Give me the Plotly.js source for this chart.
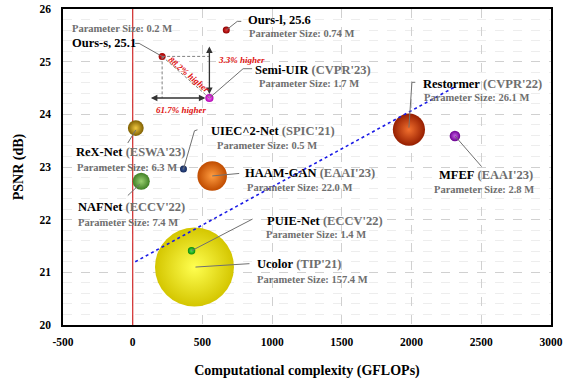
<!DOCTYPE html>
<html>
<head>
<meta charset="utf-8">
<script src="https://cdn.plot.ly/plotly-3.0.1.min.js"></script>
<style>html,body{margin:0;padding:0;background:#fff;}#chart{width:568px;height:381px;}</style>
</head>
<body>
<div id="chart"></div>
<script>
// ---- data ----
const models  = ['Ucolor','Restormer','HAAM-GAN','NAFNet','ReX-Net','MFEF','Semi-UIR','PUIE-Net','Ours-l','UIEC^2-Net','Ours-s'];
const venues  = ["TIP'21","CVPR'22","EAAI'23","ECCV'22","ESWA'23","EAAI'23","CVPR'23","ECCV'22","","SPIC'21",""];
const gflops  = [443, 1981, 570, 61, 22, 2311, 550, 422, 671, 364, 211];
const psnr    = [21.10, 23.71, 22.83, 22.73, 23.74, 23.59, 24.31, 21.41, 25.6, 22.96, 25.1];
const params  = [157.4, 26.1, 22.0, 7.4, 6.3, 2.8, 1.7, 1.4, 0.74, 0.5, 0.2];
const trendX  = [18, 2310];
const trendY  = [21.2, 24.52];
const xTicks  = [-500, 0, 500, 1000, 1500, 2000, 2500, 3000];
const yTicks  = [20, 21, 22, 23, 24, 25, 26];
const refX    = [0, 0];
const refY    = [20, 26];

// ---- styles ----
const edgeCol   = ['#D4C600','#961E00','#C04C00','#3F7F25','#7E5E00','#6A0090','#B000B0','#0A8A0A','#8A0000','#14285A','#A00000'];
const centerCol = ['#FFFF50','#F2702E','#FF9C40','#9AD070','#F0C840','#C860E8','#FF70FF','#50E850','#E83030','#3A5A98','#E02020'];
const FONT = 'Liberation Serif';
const GRAY = '#6E6E6E';
const LEAD = '#707070';

// label placement (pixel offsets from each point, up = positive)
// [nameDx, nameDy, paramDx, paramDy, leaderPath]
const place = {
  'Ucolor':     [61, 3, 61, -12, 'M 1 0 L 55 3.4'],
  'Restormer':  [11.7, 46, 12.7, 32.5, 'M 0 2 L 3 47.3 L 6.4 47.3'],
  'HAAM-GAN':   [31.3, 3, 33.3, -12, 'M 0 0 L 27 2.5'],
  'NAFNet':     [-65.7, -25.3, -65.7, -40.8, 'M -1.5 -3 L -13.4 -14.3'],
  'ReX-Net':    [-61.3, -23.7, -60.3, -39.2, 'M 0 -2 L -8 -15'],
  'MFEF':       [-18.3, -39.2, -23.3, -53.7, 'M 0 0 L 26.7 -30.7'],
  'Semi-UIR':   [43.7, 28.3, 47.7, 14.3, 'M 0 0 L 33.7 29.3 L 42.7 29.3'],
  'PUIE-Net':   [73, 30, 72, 16, 'M 0 0 L 61 31.7'],
  'Ours-l':     [19.3, 10.3, 20.3, -3.3, 'M 0 0 L 11 8.7 L 15 8.7'],
  'UIEC^2-Net': [26, 38.3, 32, 23.3, 'M 0 0 L 11 38.3 L 14 39.3'],
  'Ours-s':     [-91.7, 13, -91.7, 28, 'M -27 13 L -23 13 L 0 0']
};

const traces = [
  {
    type: 'scatter', mode: 'lines', x: refX, y: refY,
    line: {color: '#D22A2A', width: 1.2},
    hoverinfo: 'skip', showlegend: false
  },
  {
    type: 'scatter', mode: 'markers',
    x: gflops, y: psnr, text: models,
    marker: {
      size: params, sizemode: 'area', sizeref: 2 * 157.4 / (79 * 79), sizemin: 3.5,
      color: edgeCol, opacity: 1,
      gradient: {type: 'radial', color: centerCol},
      line: {width: 0}
    },
    hoverinfo: 'text', showlegend: false
  },
  {
    type: 'scatter', mode: 'lines', x: trendX, y: trendY,
    line: {color: '#1A1AE6', width: 1.6, dash: 'dot'},
    hoverinfo: 'skip', showlegend: false
  }
];

const annotations = [];
const shapes = [];

models.forEach((m, i) => {
  const p = place[m];
  const name = venues[i]
    ? '<b>' + m + '</b> <b><span style="color:' + GRAY + '">(' + venues[i] + ')</span></b>'
    : '<b>' + m + ', ' + psnr[i].toFixed(1) + '</b>';
  annotations.push({x: gflops[i], y: psnr[i], xref: 'x', yref: 'y', text: name,
    showarrow: false, xanchor: 'left', yanchor: 'middle', xshift: p[0], yshift: p[1],
    font: {family: FONT, size: 12.5, color: '#000'}});
  annotations.push({x: gflops[i], y: psnr[i], xref: 'x', yref: 'y',
    text: '<b>Parameter Size: ' + (m === 'Ours-l' ? params[i].toFixed(2) : params[i].toFixed(1)) + ' M</b>',
    showarrow: false, xanchor: 'left', yanchor: 'middle', xshift: p[2], yshift: p[3],
    font: {family: FONT, size: 10.5, color: GRAY}});
  shapes.push({type: 'path', xref: 'x', yref: 'y', xsizemode: 'pixel', ysizemode: 'pixel',
    xanchor: gflops[i], yanchor: psnr[i], path: p[4], line: {color: LEAD, width: 1}});
});

// comparison Ours-s vs Semi-UIR
const iS = models.indexOf('Ours-s'), iU = models.indexOf('Semi-UIR');
const dashLine = {color: '#808080', width: 1, dash: '3px,2px'};
shapes.push({type: 'line', xref: 'x', yref: 'y', x0: gflops[iS], y0: psnr[iS], x1: gflops[iU], y1: psnr[iS], line: dashLine});
shapes.push({type: 'line', xref: 'x', yref: 'y', x0: gflops[iS], y0: psnr[iS], x1: gflops[iS], y1: psnr[iU], line: dashLine});
shapes.push({type: 'line', xref: 'x', yref: 'y', x0: gflops[iS], y0: psnr[iS], x1: gflops[iU], y1: psnr[iU], line: dashLine});

// double arrows from Semi-UIR
annotations.push({x: gflops[iU], y: psnr[iU], xref: 'x', yref: 'y', text: '', showarrow: true,
  ax: 0, ay: -53, arrowside: 'end+start', arrowhead: 2, startarrowhead: 2, arrowsize: 1, startarrowsize: 1,
  arrowwidth: 1.3, arrowcolor: '#333', standoff: 4, startstandoff: 0});
annotations.push({x: gflops[iU], y: psnr[iU], xref: 'x', yref: 'y', text: '', showarrow: true,
  ax: -60, ay: 0, arrowside: 'end+start', arrowhead: 2, startarrowhead: 2, arrowsize: 1, startarrowsize: 1,
  arrowwidth: 1.3, arrowcolor: '#333', standoff: 4, startstandoff: 0});

const redFont = {family: FONT, size: 9, color: '#E01010'};
annotations.push({x: gflops[iU], y: psnr[iU], xref: 'x', yref: 'y', text: '<b><i>61.7% higher</i></b>',
  showarrow: false, xanchor: 'center', yanchor: 'middle', xshift: -27.8, yshift: -11.7, font: redFont});
annotations.push({x: gflops[iU], y: psnr[iU], xref: 'x', yref: 'y', text: '<b><i>3.3% higher</i></b>',
  showarrow: false, xanchor: 'left', yanchor: 'middle', xshift: 6.5, yshift: 38.5, font: redFont});
annotations.push({x: gflops[iU], y: psnr[iU], xref: 'x', yref: 'y', text: '<b><i>88.2% higher</i></b>',
  showarrow: false, xanchor: 'center', yanchor: 'middle', xshift: -20, yshift: 23.5, textangle: 40, font: redFont});

const layout = {
  width: 568, height: 381,
  margin: {l: 63, r: 17, t: 9, b: 56},
  paper_bgcolor: '#fff', plot_bgcolor: '#fff',
  showlegend: false,
  font: {family: FONT},
  xaxis: {
    range: [-500, 3000], tickvals: xTicks, ticktext: xTicks.map(String),
    showline: true, mirror: true, linecolor: '#000', linewidth: 1.6,
    showgrid: true, gridcolor: '#D0D0D0', griddash: 'dash', gridwidth: 1,
    zeroline: false, ticks: '', ticklabelstandoff: 6,
    tickfont: {family: FONT, size: 11.5, color: '#000', weight: 'bold'},
    title: {text: '<b>Computational complexity (GFLOPs)</b>', standoff: 18,
      font: {family: FONT, size: 14, color: '#000'}}
  },
  yaxis: {
    range: [20, 26], tickvals: yTicks, ticktext: yTicks.map(String),
    showline: true, mirror: true, linecolor: '#000', linewidth: 1.6,
    showgrid: true, gridcolor: '#D0D0D0', griddash: 'dash', gridwidth: 1,
    minor: {dtick: 0.2, showgrid: true, gridcolor: '#EDEDED', gridwidth: 1, ticks: ''},
    zeroline: false, ticks: '', ticklabelstandoff: 8,
    tickfont: {family: FONT, size: 11.5, color: '#000', weight: 'bold'},
    title: {text: '<b>PSNR (dB)</b>', standoff: 12,
      font: {family: FONT, size: 14, color: '#000'}}
  },
  shapes: shapes,
  annotations: annotations
};

Plotly.newPlot('chart', traces, layout, {displayModeBar: false, staticPlot: true});
</script>
</body>
</html>
